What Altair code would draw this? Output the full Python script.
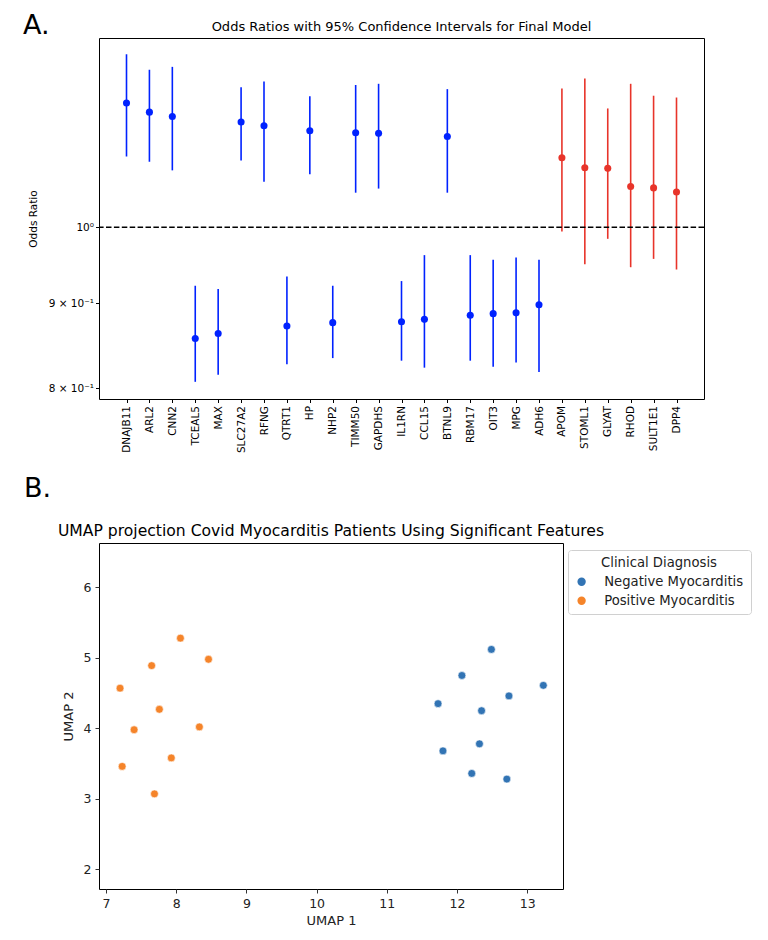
import altair as alt
import pandas as pd
import json

# ---- Panel A data: odds ratios with 95% CI ----
genes = ["DNAJB11", "ARL2", "CNN2", "TCEAL5", "MAX", "SLC27A2", "RFNG", "QTRT1", "HP",
         "NHP2", "TIMM50", "GAPDHS", "IL1RN", "CCL15", "BTNL9", "RBM17", "OIT3", "MPG",
         "ADH6", "APOM", "STOML1", "GLYAT", "RHOD", "SULT1E1", "DPP4"]
odds = [1.188, 1.173, 1.166, 0.857, 0.863, 1.157, 1.151, 0.872, 1.143,
        0.876, 1.140, 1.139, 0.877, 0.880, 1.134, 0.885, 0.887, 0.888,
        0.898, 1.101, 1.086, 1.085, 1.058, 1.056, 1.050]
ci_low = [1.103, 1.095, 1.082, 0.807, 0.815, 1.097, 1.065, 0.827, 1.076,
          0.834, 1.049, 1.055, 0.831, 0.823, 1.049, 0.831, 0.824, 0.829,
          0.818, 0.994, 0.950, 0.984, 0.946, 0.957, 0.943]
ci_high = [1.271, 1.244, 1.249, 0.922, 0.918, 1.214, 1.224, 0.934, 1.199,
           0.922, 1.218, 1.220, 0.928, 0.962, 1.211, 0.962, 0.956, 0.959,
           0.956, 1.212, 1.229, 1.179, 1.220, 1.200, 1.197]
groups = ["sig"] * 19 + ["ns"] * 6

# ---- Panel B data: UMAP ----
neg_x = [12.49, 12.07, 13.23, 12.74, 11.73, 12.35, 12.32, 11.80, 12.21, 12.71]
neg_y = [5.12, 4.75, 4.61, 4.46, 4.35, 4.25, 3.78, 3.68, 3.36, 3.28]
pos_x = [8.06, 8.46, 7.65, 7.20, 7.76, 7.40, 8.33, 7.93, 7.23, 7.69]
pos_y = [5.28, 4.98, 4.89, 4.57, 4.27, 3.98, 4.02, 3.58, 3.46, 3.07]
diagnoses = ["Negative Myocarditis", "Positive Myocarditis"]

FONT = "DejaVu Sans"
BLUE = "#0022ff"
RED = "#e8342a"

dfA = pd.DataFrame({"idx": list(range(len(genes))), "gene": genes, "odds": odds,
                    "lo": ci_low, "hi": ci_high, "grp": groups})

W1, H1 = 605, 361
n = len(genes)
margin = 0.05 * (n - 1)
gene_arr = json.dumps(genes).replace('"', "'")
xA = alt.X("idx:Q", title=None,
           scale=alt.Scale(domain=[-margin, n - 1 + margin], nice=False, zero=False),
           axis=alt.Axis(values=list(range(n)), labelExpr=f"{gene_arr}[datum.value]",
                         labelAngle=270, labelFontSize=10.5, labelColor="black",
                         tickColor="black", tickSize=3.5, labelPadding=3, domain=False,
                         grid=False, labelFont=FONT, labelAlign="right", labelBaseline="middle"))
yscale = alt.Scale(type="log", domain=[0.788, 1.30], nice=False, zero=False)
colA = alt.Color("grp:N", scale=alt.Scale(domain=["sig", "ns"], range=[BLUE, RED]), legend=None)

ci = alt.Chart(dfA).mark_rule(strokeWidth=1.6).encode(
    x=xA,
    y=alt.Y("lo:Q", scale=yscale, title="Odds Ratio",
            axis=alt.Axis(values=[0.8, 0.9, 1.0], grid=False, domain=False,
                          labelExpr="datum.value == 1 ? '10⁰' : (datum.value < 0.85 ? '8 × 10⁻¹' : '9 × 10⁻¹')",
                          labelFontSize=10.5, labelColor="black", tickColor="black", tickSize=3.5,
                          labelPadding=2, titleFontSize=10.5, titleFontWeight="normal",
                          titleColor="black", titlePadding=10, labelFont=FONT, titleFont=FONT)),
    y2="hi:Q",
    color=colA,
)
pts = alt.Chart(dfA).mark_circle(size=50, opacity=1).encode(
    x=xA, y=alt.Y("odds:Q", scale=yscale), color=colA)
ref = alt.Chart(pd.DataFrame({"v": [1.0]})).mark_rule(
    color="black", strokeWidth=1.4, strokeDash=[5.5, 2.4]).encode(y=alt.Y("v:Q", scale=yscale))
titleA = alt.Chart(pd.DataFrame({"t": ["Odds Ratios with 95% Confidence Intervals for Final Model"]})).mark_text(
    font=FONT, fontSize=13, align="center", baseline="middle", color="black").encode(
    x=alt.value(W1 / 2), y=alt.value(-11), text="t:N")
labA = alt.Chart(pd.DataFrame({"t": ["A."]})).mark_text(
    font=FONT, fontSize=27, align="left", baseline="middle", color="black").encode(
    x=alt.value(-76), y=alt.value(-12), text="t:N")

chartA = alt.layer(ci, pts, ref, titleA, labA).properties(width=W1, height=H1)

# ---- Panel B ----
rows = []
for x, y in zip(neg_x, neg_y):
    rows.append({"u1": x, "u2": y, "dx": diagnoses[0]})
for x, y in zip(pos_x, pos_y):
    rows.append({"u1": x, "u2": y, "dx": diagnoses[1]})
dfB = pd.DataFrame(rows)

W2, H2 = 464, 346
axB = dict(grid=False, domain=False, labelFontSize=12.5, labelColor="#222", tickColor="#333",
           tickSize=4, labelPadding=4, titleFontSize=13, titleFontWeight="normal",
           titleColor="#222", labelFont=FONT, titleFont=FONT)
scat = alt.Chart(dfB).mark_circle(size=62, opacity=1, stroke="white", strokeWidth=0.6).encode(
    x=alt.X("u1:Q", title="UMAP 1", scale=alt.Scale(domain=[6.9, 13.51], nice=False, zero=False),
            axis=alt.Axis(values=[7, 8, 9, 10, 11, 12, 13], titlePadding=5, **axB)),
    y=alt.Y("u2:Q", title="UMAP 2", scale=alt.Scale(domain=[1.72, 6.63], nice=False, zero=False),
            axis=alt.Axis(values=[2, 3, 4, 5, 6], titlePadding=8, **axB)),
    color=alt.Color("dx:N", scale=alt.Scale(domain=diagnoses, range=["#3274b4", "#f5842a"]),
                    legend=alt.Legend(title="Clinical Diagnosis", orient="none", legendX=469, legendY=7,
                                      titleFontSize=13.2, titleFontWeight="normal", titleColor="#222",
                                      titleAnchor="middle", labelFontSize=13.2, labelColor="#222",
                                      symbolType="circle", symbolSize=70, symbolStrokeWidth=0,
                                      labelOffset=16, rowPadding=5, padding=7,
                                      strokeColor="#d0d0d0", fillColor="white", cornerRadius=3,
                                      titleFont=FONT, labelFont=FONT, titlePadding=5)),
)
titleB = alt.Chart(pd.DataFrame({"t": ["UMAP projection Covid Myocarditis Patients Using Significant Features"]})).mark_text(
    font=FONT, fontSize=15.6, align="center", baseline="middle", color="black").encode(
    x=alt.value(W2 / 2), y=alt.value(-12), text="t:N")
labB = alt.Chart(pd.DataFrame({"t": ["B."]})).mark_text(
    font=FONT, fontSize=27, align="left", baseline="middle", color="black").encode(
    x=alt.value(-75), y=alt.value(-54), text="t:N")

chartB = alt.layer(scat, titleB, labB).properties(width=W2, height=H2)

chart = alt.vconcat(chartA, chartB, spacing=20).resolve_scale(color="independent").properties(
    padding={"left": 14, "top": 3, "right": 5, "bottom": 5}
).configure(font=FONT).configure_view(stroke="black", strokeWidth=1)

chart.save("out.html", embed_options={"renderer": "svg", "actions": False})
